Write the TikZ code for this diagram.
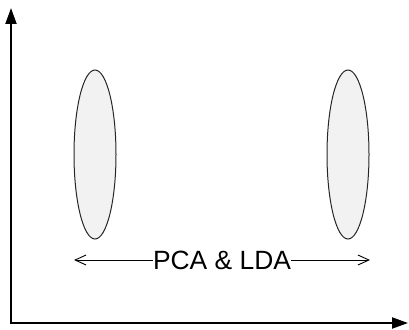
\documentclass[tikz,border=0pt]{standalone}
\usepackage{fontspec}
\setmainfont{Liberation Sans}
\usetikzlibrary{arrows.meta,shapes.geometric}
\definecolor{clusterfill}{HTML}{F2F2F2}
\begin{document}
\begin{tikzpicture}[x=1pt,y=-1pt,
  axisline/.style={line width=2pt,-{Triangle[length=16pt,width=11pt]}},
  cluster/.style={ellipse,draw=black!85,line width=1pt,fill=clusterfill,minimum width=42pt,minimum height=169pt,inner sep=0pt},
  span/.style={line width=0.9pt,-{Straight Barb[length=11pt,width=10pt,line width=0.9pt]}},
  label/.style={inner sep=0pt,font=\fontsize{26.4pt}{28pt}\selectfont}]
  \useasboundingbox (0,0) rectangle (409,329);
  % axes
  \coordinate (origin) at (11,323);
  \coordinate (ytop) at (11,8);
  \coordinate (xend) at (408,323);
  \draw[axisline] (origin) -- (ytop);
  \draw[axisline] ([xshift=-1pt]origin) -- (xend);
  % two clusters
  \node[cluster] (c1) at (95,154.5) {};
  \node[cluster] (c2) at (348,154.5) {};
  % double-headed span with label
  \node[label] (txt) at (222,260) {PCA \& LDA};
  \coordinate (lend) at (74,260);
  \coordinate (rend) at (370,260);
  \draw[span] (txt.west) -- (lend);
  \draw[span] (txt.east) -- (rend);
\end{tikzpicture}
\end{document}
